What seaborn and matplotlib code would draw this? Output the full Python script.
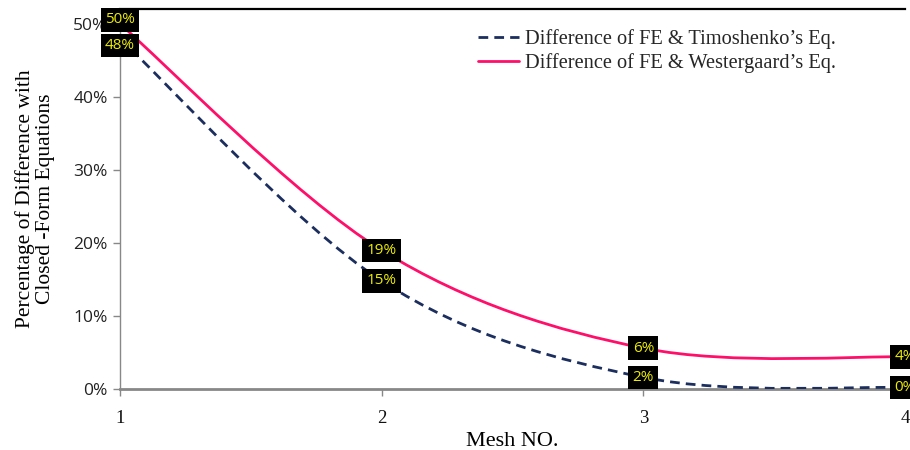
import numpy as np
import matplotlib
matplotlib.use("Agg")
import matplotlib.pyplot as plt
from matplotlib.path import Path
from matplotlib.patches import PathPatch
from matplotlib.lines import Line2D
from matplotlib.ticker import PercentFormatter
import seaborn as sb

# data
mesh_no = [1, 2, 3, 4]
timoshenko_diff = [0.48, 0.148, 0.016, 0.002]
westergaard_diff = [0.50, 0.19, 0.056, 0.044]
series_names = ["Difference of FE & Timoshenko\u2019s Eq.",
                "Difference of FE & Westergaard\u2019s Eq."]
y_ticks = [0, 0.1, 0.2, 0.3, 0.4, 0.5]


def smooth_path(xs, ys):
    # excel-like smoothed line: cubic bezier segments through the points
    pts = np.column_stack([xs, ys]).astype(float)
    n = len(pts)
    verts = [pts[0]]
    codes = [Path.MOVETO]
    for i in range(n - 1):
        p_prev = pts[max(i - 1, 0)]
        p0 = pts[i]
        p1 = pts[i + 1]
        p_next = pts[min(i + 2, n - 1)]
        c1 = p0 + (p1 - p_prev) / 6.0
        c2 = p1 - (p_next - p0) / 6.0
        verts += [c1, c2, p1]
        codes += [Path.CURVE4] * 3
    return Path(verts, codes)


sb.set_theme(style="white")
plt.rcParams['font.family'] = ['Liberation Serif', 'DejaVu Serif']

fig = plt.figure(figsize=(9.1, 4.5), dpi=100)
ax = fig.add_axes([120 / 910, 1 - 389 / 450, 785 / 910, 380 / 450])

blue = "#1B2E5E"
pink = "#FF0F6A"
dash = (0, (3.5, 2.2))

ax.add_patch(PathPatch(smooth_path(mesh_no, timoshenko_diff), fill=False,
                       edgecolor=blue, lw=2.0, linestyle=dash,
                       capstyle="butt", zorder=3))
ax.add_patch(PathPatch(smooth_path(mesh_no, westergaard_diff), fill=False,
                       edgecolor=pink, lw=2.0, zorder=3))

ax.set_xlim(1, 4)
ax.set_ylim(0, 0.5205)
ax.set_xticks(mesh_no)
ax.set_yticks(y_ticks)
ax.yaxis.set_major_formatter(PercentFormatter(1.0, decimals=0))

for lbl in ax.get_yticklabels():
    lbl.set_fontfamily("Open Sans")
    lbl.set_fontsize(12.5)
    lbl.set_color("#222222")
for lbl in ax.get_xticklabels():
    lbl.set_fontsize(13.5)
    lbl.set_color("#111111")

ax.tick_params(axis="both", which="major", direction="out", length=5,
               width=1, color="#888888", left=True, bottom=True)
ax.tick_params(axis="x", pad=10)
ax.tick_params(axis="y", pad=4)

ax.spines["right"].set_visible(False)
ax.spines["left"].set_color("#888888")
ax.spines["left"].set_linewidth(1)
ax.spines["bottom"].set_color("#888888")
ax.spines["bottom"].set_linewidth(2)
ax.spines["top"].set_color("black")
ax.spines["top"].set_linewidth(1.6)
ax.grid(False)

ax.set_xlabel("Mesh NO.", fontsize=16, labelpad=4, color="black")
ax.set_ylabel("Percentage of Difference with\nClosed -Form Equations",
              fontsize=15.5, labelpad=13, color="black", linespacing=1.05)

# data labels, black boxes with yellow text
# the two labels at mesh 1 overlap, so they are nudged apart a little
for vals, nudge in ((westergaard_diff, 3), (timoshenko_diff, -5)):
    for i, (x, v) in enumerate(zip(mesh_no, vals)):
        dy = nudge if i == 0 else 0
        ax.annotate("{:.0f}%".format(v * 100), xy=(x, v), xytext=(0, dy),
                    textcoords="offset points", ha="center", va="center",
                    fontsize=11, fontfamily="Open Sans", color="#EDED00",
                    bbox=dict(boxstyle="square,pad=0.28", fc="black", ec="none"),
                    annotation_clip=False, zorder=5)

handles = [Line2D([], [], color=blue, lw=2.0, linestyle=dash),
           Line2D([], [], color=pink, lw=2.0)]
fig.legend(handles, series_names, loc="upper left",
           bbox_to_anchor=(478 / 910, 1 - 29 / 450), frameon=False,
           fontsize=14.7, handlelength=2.0, handletextpad=0.3,
           labelspacing=0.22, borderaxespad=0, borderpad=0)

fig.savefig("out.png", dpi=100)
